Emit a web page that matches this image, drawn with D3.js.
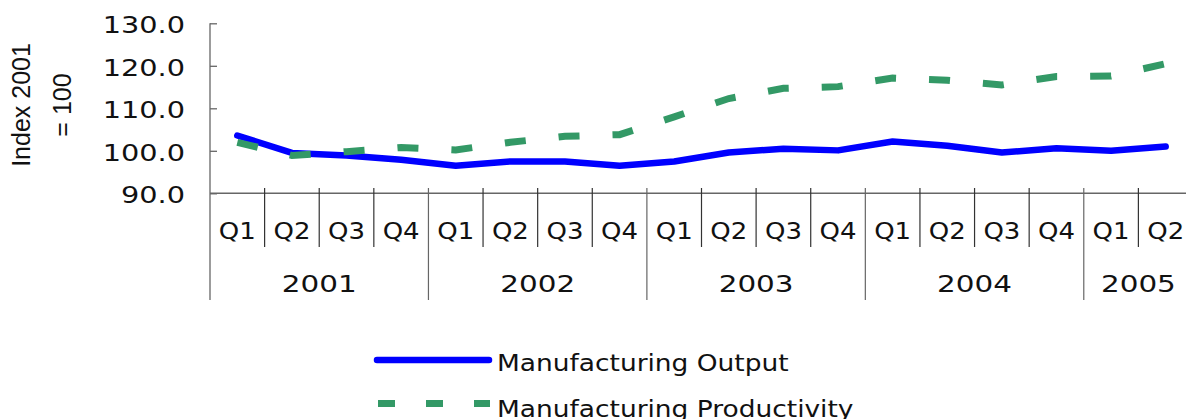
<!DOCTYPE html>
<html>
<head>
<meta charset="utf-8">
<script src="https://cdn.jsdelivr.net/npm/d3@7"></script>
<style>
  html, body { margin: 0; padding: 0; background: #fff; overflow: hidden; }
  svg { display: block; }
  text { fill: #111; }
</style>
</head>
<body>
<script>
// values
const years = ["2001", "2002", "2003", "2004", "2005"]
const quartersPerYear = [4, 4, 4, 4, 2]
const quarterNames = ["Q1", "Q2", "Q3", "Q4"]
const output = [103.6, 99.5, 98.9, 97.9, 96.5, 97.5, 97.5, 96.5, 97.5, 99.6, 100.5, 100.1, 102.2, 101.2, 99.6, 100.6, 100.0, 101.0]
const productivity = [102.0, 98.9, 99.8, 100.8, 100.2, 102.0, 103.4, 103.8, 108.0, 112.3, 114.7, 115.1, 117.1, 116.6, 115.5, 117.5, 117.6, 120.5]
const yTicks = [90, 100, 110, 120, 130]
const seriesNames = ["Manufacturing Output", "Manufacturing Productivity"]

// one category per quarter
const cats = []
years.forEach((yr, i) => {
    for (let q = 0; q < quartersPerYear[i]; q++) {
        cats.push({ id: yr + quarterNames[q], year: yr, q: quarterNames[q], first: q === 0 })
    }
})

const W = 1186, H = 419
const svg = d3.select("body").append("svg")
    .attr("width", W)
    .attr("height", H)

const x = d3.scaleBand()
    .domain(cats.map(d => d.id))
    .range([210, 1193])
const y = d3.scaleLinear()
    .domain([90, 130])
    .range([193.3, 23.3])
const cx = id => x(id) + x.bandwidth() / 2

const axisColor = "#666"
const font = "DejaVu Sans"
// the reference font is wider than DejaVu, so text is stretched a bit
const numStretch = 1.25
const wordStretch = 1.15

// y axis
const yAxis = d3.axisLeft(y)
    .tickValues(yTicks)
    .tickFormat(d3.format(".1f"))
    .tickSizeInner(-7)
    .tickSizeOuter(0)
    .tickPadding(25)
const gy = svg.append("g")
    .attr("transform", "translate(210,0)")
    .call(yAxis)
gy.select(".domain").remove()
gy.selectAll(".tick line").attr("stroke", axisColor).attr("stroke-width", 1.3)
gy.selectAll(".tick text")
    .attr("font-family", font)
    .attr("font-size", 23)
    .attr("x", -25 / numStretch)
    .attr("transform", `scale(${numStretch},1)`)
    .attr("dy", "0.42em")
    .attr("fill", "#111")

// axis lines
svg.append("line")
    .attr("x1", 210).attr("x2", 210)
    .attr("y1", y(130)).attr("y2", 300)
    .attr("stroke", axisColor).attr("stroke-width", 1.3)
svg.append("line")
    .attr("x1", 210).attr("x2", 1193)
    .attr("y1", y(90)).attr("y2", y(90))
    .attr("stroke", axisColor).attr("stroke-width", 1.6)

// separators between categories
svg.append("g").selectAll("line")
    .data(cats.slice(1))
    .enter()
    .append("line")
    .attr("x1", d => x(d.id))
    .attr("x2", d => x(d.id))
    .attr("y1", 188)
    .attr("y2", d => d.first ? 300 : 247)
    .attr("stroke", d => d.first ? axisColor : "#333")
    .attr("stroke-width", 1.2)

// quarter labels
svg.append("g").selectAll("text")
    .data(cats)
    .enter()
    .append("text")
    .attr("transform", d => `translate(${cx(d.id)},239) scale(1.13,1)`)
    .attr("text-anchor", "middle")
    .attr("font-family", font)
    .attr("font-size", 23)
    .text(d => d.q)

// year labels
const yearGroups = years.map(yr => {
    const ids = cats.filter(c => c.year === yr).map(c => c.id)
    return { year: yr, x0: x(ids[0]), x1: x(ids[ids.length - 1]) + x.bandwidth() }
})
svg.append("g").selectAll("text")
    .data(yearGroups)
    .enter()
    .append("text")
    .attr("transform", d => `translate(${(d.x0 + d.x1) / 2},292) scale(${numStretch + 0.03},1)`)
    .attr("text-anchor", "middle")
    .attr("font-family", font)
    .attr("font-size", 23)
    .text(d => d.year)

// y axis title
const title = svg.append("text")
    .attr("transform", "translate(30,105) rotate(-90)")
    .attr("text-anchor", "middle")
    .attr("font-family", "Liberation Sans")
    .attr("font-size", 25)
title.append("tspan").attr("x", 0).attr("y", 0).text("Index 2001")
title.append("tspan").attr("x", 0).attr("y", 41).text("= 100")

// lines
const line = d3.line()
    .x((d, i) => cx(cats[i].id))
    .y(d => y(d))

svg.append("path")
    .datum(output)
    .attr("d", line)
    .attr("fill", "none")
    .attr("stroke", "#0000ff")
    .attr("stroke-width", 6.5)
    .attr("stroke-linejoin", "round")
    .attr("stroke-linecap", "round")

svg.append("path")
    .datum(productivity)
    .attr("d", line)
    .attr("fill", "none")
    .attr("stroke", "#339966")
    .attr("stroke-width", 7)
    .attr("stroke-dasharray", "21,33")

// legend
const legend = svg.append("g")
legend.append("line")
    .attr("x1", 377).attr("x2", 489)
    .attr("y1", 360).attr("y2", 360)
    .attr("stroke", "#0000ff")
    .attr("stroke-width", 6.5)
    .attr("stroke-linecap", "round")
legend.append("line")
    .attr("x1", 378).attr("x2", 490)
    .attr("y1", 403.5).attr("y2", 403.5)
    .attr("stroke", "#339966")
    .attr("stroke-width", 7)
    .attr("stroke-dasharray", "17,31")
legend.selectAll("text")
    .data(seriesNames)
    .enter()
    .append("text")
    .attr("transform", (d, i) => `translate(497,${i === 0 ? 371 : 416.5}) scale(${wordStretch},1)`)
    .attr("font-family", font)
    .attr("font-size", 23)
    .text(d => d)
</script>
</body>
</html>
